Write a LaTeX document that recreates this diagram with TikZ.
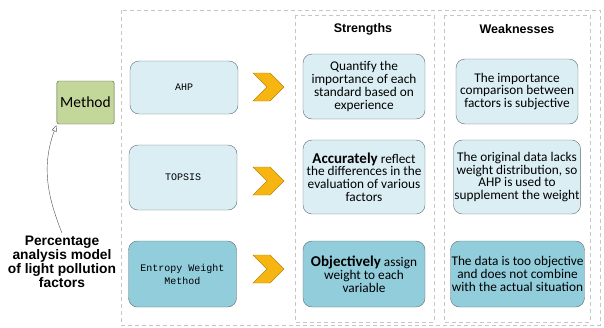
\documentclass[tikz,border=0pt]{standalone}
\usepackage{fontspec}
\setmainfont{Carlito}
\newfontfamily\headfont{Liberation Sans}
\newfontfamily\codefont{Liberation Mono}
\usetikzlibrary{arrows,positioning}
\usetikzlibrary{shapes.symbols}

\definecolor{paleblue}{HTML}{DBEEF4}
\definecolor{deepblue}{HTML}{92CDDC}
\definecolor{boxline}{HTML}{5F6B70}
\definecolor{leaf}{HTML}{C4D79B}
\definecolor{leafline}{HTML}{4D5A35}
\definecolor{amber}{HTML}{F7B512}
\definecolor{amberline}{HTML}{B8860B}

\begin{document}
\begin{tikzpicture}[
	x=1pt, y=-1pt,
	node distance=15pt,
	panel/.style={
		draw=gray!45,
		dash pattern=on 4pt off 3pt
	},
	methodbox/.style={
		draw=boxline,
		fill=paleblue,
		rounded corners=9pt,
		minimum width=108pt,
		align=center,
		font=\codefont\fontsize{10}{13}\selectfont
	},
	card/.style={
		draw=boxline,
		fill=paleblue,
		rounded corners=9pt,
		minimum width=122pt,
		inner sep=1pt,
		align=center,
		font=\fontsize{13.3}{12.8}\selectfont
	},
	arrowhead/.style={
		signal,
		signal to=east,
		signal from=west,
		draw=amberline,
		fill=amber,
		minimum width=31pt,
		minimum height=28pt,
		inner sep=0pt
	},
	title/.style={
		font=\headfont\bfseries\fontsize{12.5}{14}\selectfont
	},
	pile/.style={
		draw=black!70,
		->,
		>={open triangle 45},
		shorten >=1pt
	}
]
\useasboundingbox (0,0) rectangle (604,327);

% frames
\draw[panel] (121,10) rectangle (600,325);
\draw[panel] (295,15) rectangle (434,322);
\draw[panel] (444,15) rectangle (590,322);

\node[title] (STR) at (363,29) {Strengths};
\node[title] (WEAK) at (517,29) {Weaknesses};

% methods
\node[methodbox, minimum height=53pt] (AHP) at (184,87.5) {AHP};
\node[methodbox, minimum height=65pt] (TOP) at (183,177.5) {TOPSIS};
\node[methodbox, minimum height=66pt, fill=deepblue] (ENT) at (182.5,274)
{Entropy Weight\\Method};

\node[arrowhead] (C1) at (268.5,87) {};
\node[arrowhead] (C2) at (268.5,181) {};
\node[arrowhead] (C3) at (268.5,269) {};

% strengths
\node[card, minimum height=65pt] (S1) at (364,86.5)
{Quantify the\\importance of each\\standard based on\\experience};
\node[card, minimum height=74pt] (S2) at (364,177)
{{\fontsize{15}{15}\selectfont\bfseries Accurately} reflect\\the differences in the\\evaluation of various\\factors};
\node[card, minimum height=66pt, fill=deepblue] (S3) at (364,274)
{{\fontsize{15}{15}\selectfont\bfseries Objectively} assign\\weight to each\\variable};

% weaknesses
\node[card, minimum height=65pt] (W1) at (517,91.5)
{The importance\\comparison between\\factors is subjective};
\node[card, minimum height=74pt] (W2) at (517,177)
{The original data lacks\\weight distribution, so\\AHP is used to\\supplement the weight};
\node[card, minimum height=66pt, minimum width=131pt, fill=deepblue] (W3) at (517.5,274)
{The data is too objective\\and does not combine\\with the actual situation};

% model
\node[draw=leafline, fill=leaf, rounded corners=2pt, minimum width=55pt,
	minimum height=43pt, font=\fontsize{15.5}{17}\selectfont] (METH) at (85.5,102.5) {Method};

\node[align=center, font=\headfont\bfseries\fontsize{13.8}{13.8}\selectfont] (PCT) at (62,262)
{Percentage\\analysis model\\of light pollution\\factors};

\draw[pile] (PCT.north) to[out=112, in=250] (METH.south west);

\end{tikzpicture}
\end{document}
